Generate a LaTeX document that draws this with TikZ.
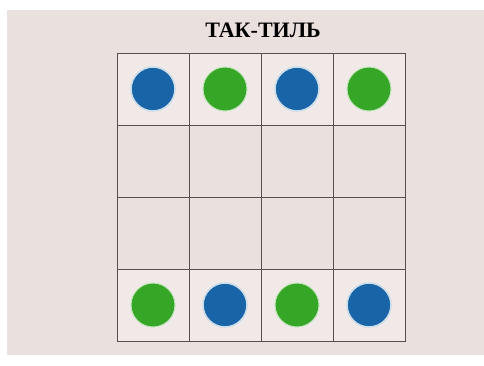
\documentclass[tikz,border=0pt]{standalone}
\usepackage{fontspec}
\setmainfont{Liberation Serif}
\usepackage{tikz}
\usetikzlibrary{positioning}
\definecolor{paper}{RGB}{234,224,221}
\definecolor{card}{RGB}{241,233,231}
\definecolor{gridline}{RGB}{88,78,78}
\definecolor{chip-blue}{RGB}{24,100,166}
\definecolor{chip-green}{RGB}{54,166,38}

\begin{document}
\begin{tikzpicture}[x=1pt, y=-1pt,
  cell/.style={rectangle, draw=gridline, line width=0.7pt,
               minimum size=72pt, inner sep=0pt, outer sep=0pt},
  card/.style={cell, fill=card},
  chip/.style={circle, minimum size=44pt, inner sep=0pt},
  bluechip/.style={chip, fill=chip-blue, draw=chip-blue!22, line width=1.6pt},
  greenchip/.style={chip, fill=chip-green, draw=chip-green!30, line width=1pt},
  node distance=0pt
]
  \useasboundingbox (0,0) rectangle (484,365);
  \fill[paper] (7,10) rectangle (484,355);

  \node[anchor=base, font=\bfseries\fontsize{22}{22}\selectfont] (title) at (263,37) {ТАК-ТИЛЬ};

  % Row 1
  \node[card] (a1) at (153,89) {};
  \node[card, right=of a1] (b1) {};
  \node[card, right=of b1] (c1) {};
  \node[card, right=of c1] (d1) {};

  % Row 2
  \node[cell, below=of a1] (a2) {};
  \node[cell, right=of a2] (b2) {};
  \node[cell, right=of b2] (c2) {};
  \node[cell, right=of c2] (d2) {};

  % Row 3
  \node[cell, below=of a2] (a3) {};
  \node[cell, right=of a3] (b3) {};
  \node[cell, right=of b3] (c3) {};
  \node[cell, right=of c3] (d3) {};

  % Row 4
  \node[card, below=of a3] (a4) {};
  \node[card, right=of a4] (b4) {};
  \node[card, right=of b4] (c4) {};
  \node[card, right=of c4] (d4) {};

  % Chips
  \node[bluechip]  (chip-a1) at (a1) {};
  \node[greenchip] (chip-b1) at (b1) {};
  \node[bluechip]  (chip-c1) at (c1) {};
  \node[greenchip] (chip-d1) at (d1) {};
  \node[greenchip] (chip-a4) at (a4) {};
  \node[bluechip]  (chip-b4) at (b4) {};
  \node[greenchip] (chip-c4) at (c4) {};
  \node[bluechip]  (chip-d4) at (d4) {};
\end{tikzpicture}
\end{document}
